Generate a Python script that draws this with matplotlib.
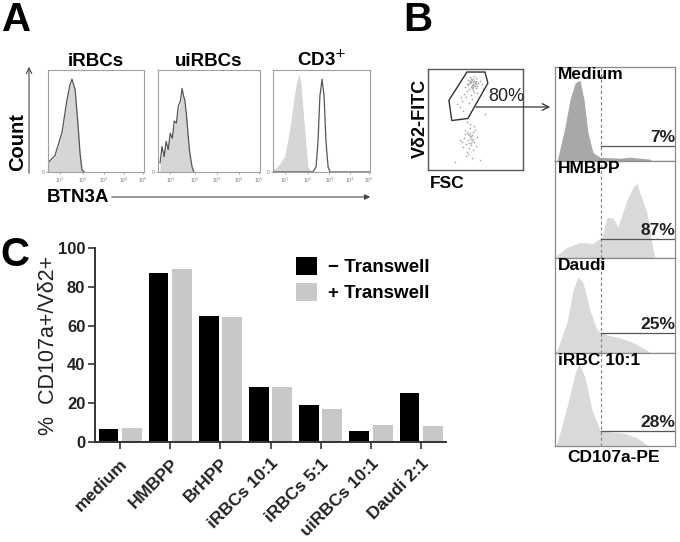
import matplotlib
matplotlib.use("Agg")
import matplotlib.pyplot as plt
from matplotlib.patches import FancyArrowPatch, Polygon
import numpy as np

plt.rcParams['font.family'] = ['Liberation Sans', 'DejaVu Sans']

W, H = 680, 542

# ---------------- data ----------------
# Panel C bar chart
categories = ['medium', 'HMBPP', 'BrHPP', 'iRBCs 10:1', 'iRBCs 5:1', 'uiRBCs 10:1', 'Daudi 2:1']
minus_transwell = [6.7, 87.2, 65.1, 28.4, 19.2, 5.7, 25.1]
plus_transwell = [7.4, 89.2, 64.3, 28.4, 17.0, 8.9, 8.2]
y_ticks = [0, 20, 40, 60, 80, 100]

# Panel A histograms (x: log decades, y: relative count)
a_titles = ['iRBCs', 'uiRBCs', 'CD3$^{+}$']
a_tick_labels = ['10$^{1}$', '10$^{2}$', '10$^{3}$', '10$^{4}$', '10$^{5}$']
a_tick_pos = [0.6, 1.8, 2.9, 3.95, 4.95]
irbc_x = [0.0, 0.36, 0.73, 0.99, 1.15, 1.25, 1.41, 1.56, 1.67, 1.77, 1.88]
irbc_fill = [0.09, 0.15, 0.38, 0.70, 0.85, 0.90, 0.80, 0.48, 0.19, 0.02, 0.0]
irbc_line = [0.09, 0.16, 0.39, 0.71, 0.86, 0.91, 0.81, 0.47, 0.18, 0.02, 0.0]
uirbc_x = [0.10, 0.2, 0.3, 0.4, 0.5, 0.6, 0.7, 0.8, 0.9, 1.0, 1.1, 1.18, 1.25, 1.32, 1.4, 1.47, 1.55, 1.67, 1.76]
uirbc_fill = [0.09, 0.18, 0.20, 0.25, 0.28, 0.34, 0.38, 0.46, 0.52, 0.60, 0.70, 0.78, 0.74, 0.68, 0.52, 0.36, 0.18, 0.04, 0.0]
uirbc_line = [0.09, 0.25, 0.15, 0.30, 0.22, 0.38, 0.33, 0.50, 0.48, 0.65, 0.70, 0.82, 0.75, 0.70, 0.55, 0.38, 0.20, 0.05, 0.0]
cd3_fill_x = [0.0, 0.21, 0.6, 0.88, 1.1, 1.24, 1.34, 1.45, 1.55, 1.80, 2.01]
cd3_fill = [0.02, 0.05, 0.15, 0.44, 0.75, 0.90, 0.96, 0.85, 0.60, 0.05, 0.0]
cd3_line_x = [0.0, 1.9, 2.06, 2.22, 2.32, 2.42, 2.53, 2.63, 2.73, 2.84, 2.94, 5.0]
cd3_line = [0.0, 0.0, 0.0, 0.05, 0.30, 0.75, 0.91, 0.75, 0.30, 0.05, 0.0, 0.0]

# Panel B dot plot (FSC, Vd2-FITC, 0-100 scale)
gate_x = [41, 60, 63, 42, 25, 22]
gate_y = [97, 97, 86, 51, 49, 69]
dots_x = [44, 46, 48, 45, 47, 50, 43, 49, 52, 46, 41, 38, 44, 47, 51, 53, 40, 36, 42, 48,
          55, 45, 39, 34, 50, 46, 43, 57, 37, 31, 48, 44, 52, 41, 46, 49, 35, 58, 42, 47,
          45, 47, 49, 44, 46, 48, 43, 50, 45, 47,
          42, 45, 40, 47, 43, 38, 44, 48, 41, 46, 39, 50, 36, 44, 42, 47, 40, 45, 52, 37,
          43, 49, 41, 46, 44, 34, 48, 42, 45, 39, 60, 28, 55, 33, 44, 46, 43, 47, 41, 45]
dots_y = [86, 84, 88, 82, 90, 85, 80, 87, 83, 89, 78, 75, 92, 79, 81, 86, 72, 68, 84, 77,
          88, 74, 82, 62, 91, 70, 66, 85, 58, 65, 93, 88, 76, 85, 81, 83, 72, 80, 89, 87,
          87, 85, 86, 88, 83, 84, 86, 88, 90, 82,
          30, 34, 26, 38, 22, 32, 42, 28, 18, 35, 40, 24, 28, 46, 36, 20, 14, 31, 33, 23,
          27, 40, 48, 12, 37, 30, 44, 16, 25, 36, 55, 8, 10, 50, 33, 29, 35, 31, 38, 27]
gate_pct = '80%'

# Panel B CD107a histograms (x: channel 0-100, y: relative count)
b_labels = ['Medium', 'HMBPP', 'Daudi', 'iRBC 10:1']
b_pcts = ['7%', '87%', '25%', '28%']
b_gate_level = [0.16, 0.20, 0.21, 0.16]
b_cut = 38.3
medium_x = [0, 1.7, 2.5, 8.3, 12.5, 16.7, 20.8, 24.2, 27.5, 31.7, 37.5, 54.2, 62, 70.8, 79.2, 80.8]
medium_y = [0, 0.0, 0.04, 0.36, 0.65, 0.83, 0.86, 0.65, 0.30, 0.09, 0.04, 0.03, 0.04, 0.03, 0.02, 0]
hmbpp_x = [0, 1.7, 10, 20.8, 31.7, 39.2, 43.3, 48.3, 52.5, 60, 65, 68.3, 70.8, 76.7, 80.8, 83.3, 84]
hmbpp_y = [0, 0.03, 0.11, 0.16, 0.15, 0.22, 0.42, 0.41, 0.32, 0.60, 0.73, 0.77, 0.67, 0.46, 0.15, 0.01, 0]
daudi_x = [0, 1.7, 10, 15, 19.2, 23.3, 29.2, 35, 43.3, 54.2, 65, 76.7, 79.2]
daudi_y = [0, 0.03, 0.32, 0.66, 0.80, 0.74, 0.45, 0.24, 0.19, 0.16, 0.11, 0.03, 0]
irbc10_x = [0, 1.7, 10, 16.7, 20, 25, 30.8, 37.5, 45.8, 56.7, 68.3, 76.7, 78]
irbc10_y = [0, 0.03, 0.42, 0.78, 0.89, 0.74, 0.39, 0.17, 0.15, 0.14, 0.09, 0.01, 0]

# ---------------- figure ----------------
fig = plt.figure(figsize=(W / 100, H / 100), dpi=100)


def add_ax(x0, y0, x1, y1):
    return fig.add_axes([x0 / W, 1 - y1 / H, (x1 - x0) / W, (y1 - y0) / H])


def fp(x, y):
    return (x / W, 1 - y / H)


# panel letters
for letter, (x, y) in zip('ABC', [(2, 20), (403, 20), (0, 255)]):
    fig.text(*fp(x, y), letter, fontsize=29, fontweight='bold', va='center', ha='left')

# ---------------- Panel A ----------------
a_boxes = [(48, 70, 144, 172), (158, 70, 260, 172), (273, 70, 370, 172)]
a_data = [
    (irbc_x, irbc_fill, irbc_x, irbc_line),
    (uirbc_x, uirbc_fill, uirbc_x, uirbc_line),
    (cd3_fill_x, cd3_fill, cd3_line_x, cd3_line),
]
for box, title, (fx, fy, lx, ly) in zip(a_boxes, a_titles, a_data):
    ax = add_ax(*box)
    ax.fill_between(fx, fy, color='#d6d6d6', lw=0)
    ax.plot(lx, ly, color='#555555', lw=0.9)
    ax.set_xlim(0, 5)
    ax.set_ylim(0, 1.0)
    for s in ax.spines.values():
        s.set_color('#a0a0a0')
        s.set_linewidth(0.8)
    ax.set_xticks(a_tick_pos)
    ax.set_xticklabels(a_tick_labels, fontsize=3.5, color='#777777')
    ax.set_yticks([0])
    ax.set_yticklabels(['0'], fontsize=3.5, color='#777777')
    ax.tick_params(length=1.5, width=0.5, color='#888888', pad=1)
    ax.set_title(title, fontsize=13.5, fontweight='bold', pad=3)

fig.text(*fp(18, 142), 'Count', rotation=90, fontsize=14.5, fontweight='bold', ha='center', va='center')
fig.add_artist(FancyArrowPatch(fp(29, 176), fp(29, 64), arrowstyle='->', mutation_scale=10,
                               lw=0.8, color='#444444', transform=fig.transFigure))
fig.text(*fp(47, 197), 'BTN3A', fontsize=13.5, fontweight='bold', ha='left', va='center')
fig.add_artist(FancyArrowPatch(fp(109, 197), fp(373, 197), arrowstyle='-|>', mutation_scale=8,
                               lw=0.8, color='#444444', transform=fig.transFigure))

# ---------------- Panel B dot plot ----------------
axd = add_ax(428, 69, 523, 170)
axd.scatter(dots_x, dots_y, s=1.5, color='#a8a8a8', lw=0)
axd.add_patch(Polygon(list(zip(gate_x, gate_y)), closed=True, fill=False, ec='#333333', lw=1.0))
axd.set_xlim(0, 100)
axd.set_ylim(0, 100)
axd.set_xticks([])
axd.set_yticks([])
for s in axd.spines.values():
    s.set_color('#555555')
    s.set_linewidth(1.0)
axd.text(63, 73, gate_pct, fontsize=13, ha='left', va='center', color='#222222')
fig.text(*fp(420, 118), 'Vδ2-FITC', rotation=90, fontsize=13, fontweight='bold', ha='center', va='center')
fig.text(*fp(447, 183), 'FSC', fontsize=12.5, fontweight='bold', ha='center', va='center')
fig.add_artist(FancyArrowPatch(fp(473, 107), fp(553, 107), arrowstyle='->', mutation_scale=12,
                               lw=0.9, color='#333333', transform=fig.transFigure))

# ---------------- Panel B CD107a histograms ----------------
b_boxes = [(555, 67, 675, 161), (555, 161, 675, 258), (555, 258, 675, 353), (555, 353, 675, 446)]
b_data = [(medium_x, medium_y), (hmbpp_x, hmbpp_y), (daudi_x, daudi_y), (irbc10_x, irbc10_y)]
b_colors = ['#a8a8a8', '#d9d9d9', '#d9d9d9', '#d9d9d9']
for box, lab, pct, lvl, (hx, hy), col in zip(b_boxes, b_labels, b_pcts, b_gate_level, b_data, b_colors):
    ax = add_ax(*box)
    ax.fill_between(hx, hy, color=col, lw=0)
    ax.set_xlim(0, 100)
    ax.set_ylim(0, 1)
    ax.axvline(b_cut, color='#8a8a8a', lw=0.9, ls=(0, (2.5, 2)))
    ax.plot([b_cut, 100], [lvl, lvl], color='#555555', lw=0.9)
    ax.text(0.025, 0.92, lab, fontsize=12.5, fontweight='bold', ha='left', va='center',
            transform=ax.transAxes)
    ax.text(100, lvl + 0.01, pct, fontsize=12.5, fontweight='bold', ha='right', va='bottom',
            color='#222222')
    ax.set_xticks([])
    ax.set_yticks([])
    for s in ax.spines.values():
        s.set_color('#8a8a8a')
        s.set_linewidth(0.9)
fig.text(*fp(614, 458), 'CD107a-PE', fontsize=12.5, fontweight='bold', ha='center', va='center')

# ---------------- Panel C ----------------
axc = add_ax(95, 248, 446, 442)
xpos = np.arange(len(categories))
axc.bar(xpos - 0.23, minus_transwell, width=0.39, color='black', label='− Transwell')
axc.bar(xpos + 0.235, plus_transwell, width=0.40, color='#c8c8c8', label='+ Transwell')
axc.set_xlim(-0.5, len(categories) - 0.5)
axc.set_ylim(0, 100)
axc.set_yticks(y_ticks)
axc.set_yticklabels([str(t) for t in y_ticks], fontsize=12, fontweight='bold', color='#222222')
axc.set_xticks(xpos)
axc.set_xticklabels(categories, rotation=45, ha='right', va='top', rotation_mode='anchor',
                    fontsize=12.5, fontweight='bold', color='#222222')
axc.tick_params(axis='both', direction='out', length=5, width=1.2, color='#333333')
axc.tick_params(axis='x', pad=5)
axc.tick_params(axis='y', pad=2)
for side in ['top', 'right']:
    axc.spines[side].set_visible(False)
for side in ['left', 'bottom']:
    axc.spines[side].set_linewidth(1.4)
    axc.spines[side].set_color('#333333')
fig.text(*fp(49, 345), '%  CD107a+/Vδ2+', rotation=90, fontsize=15.5, ha='center', va='center',
         color='#222222')
leg = axc.legend(loc='upper left', bbox_to_anchor=(fp(283, 244)), bbox_transform=fig.transFigure,
                 frameon=False, prop={'weight': 'bold', 'size': 13.5}, handlelength=1.1,
                 handleheight=1.1, handletextpad=0.6, labelspacing=0.35, borderpad=0.2)

fig.savefig('out.png', dpi=100)
